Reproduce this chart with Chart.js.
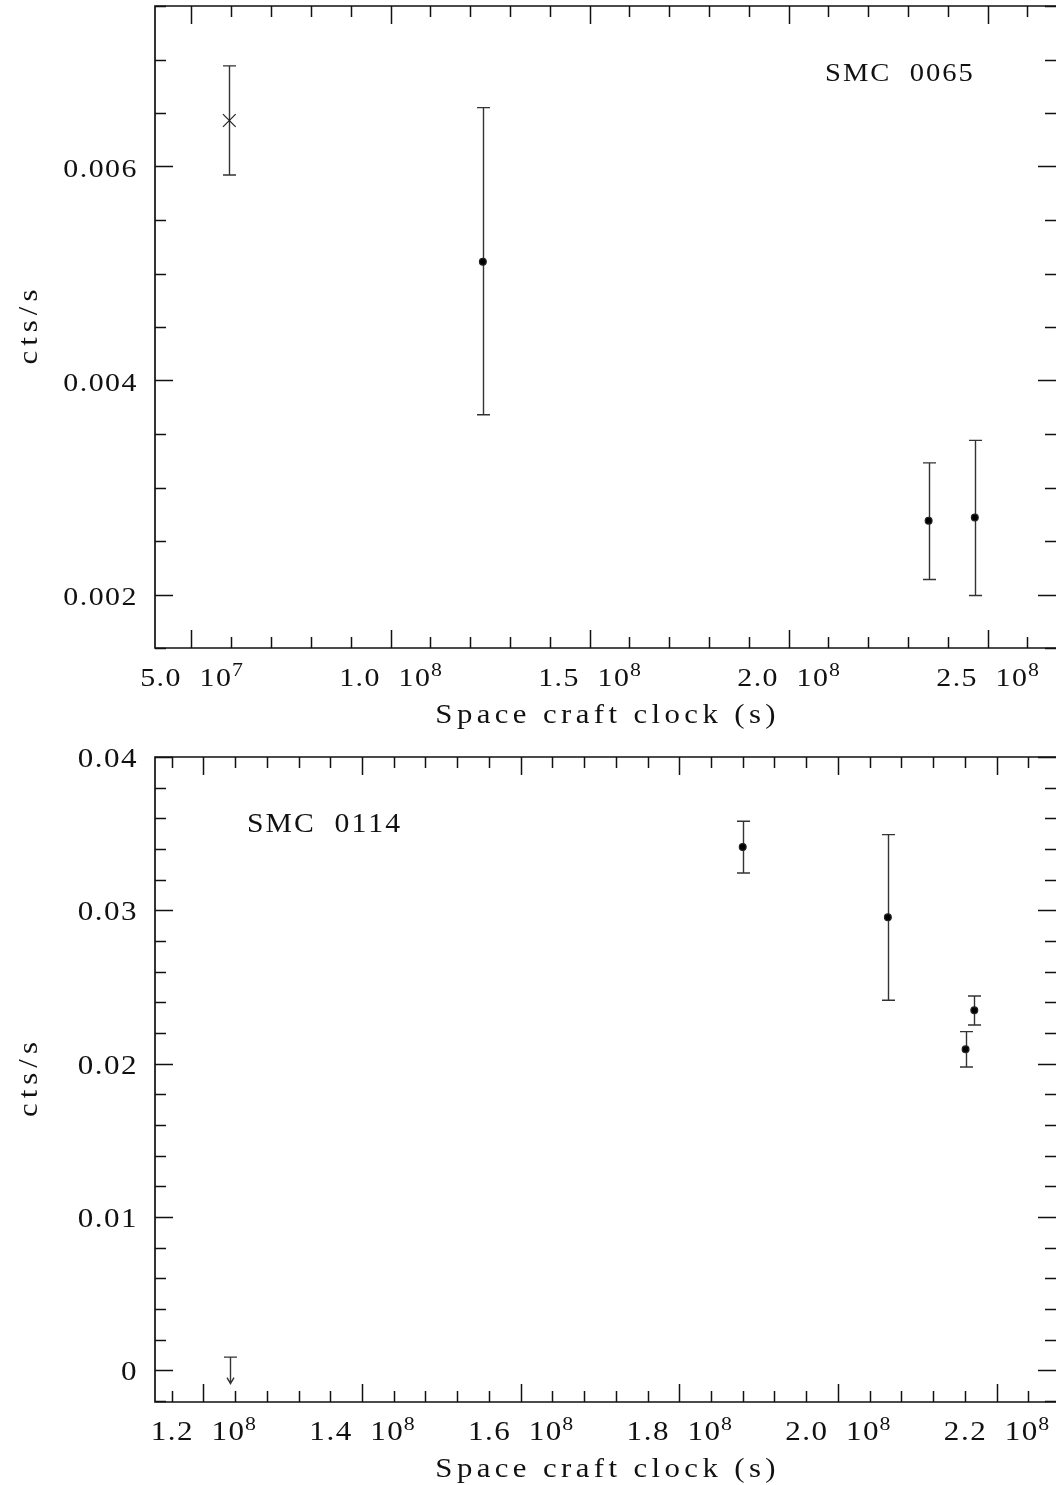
<!DOCTYPE html>
<html>
<head>
<meta charset="utf-8">
<script src="https://cdn.jsdelivr.net/npm/chart.js@4/dist/chart.umd.min.js"></script>
<style>
  body { margin: 0; background: #fff; width: 1056px; height: 1485px; position: relative; overflow: hidden; }
  canvas { position: absolute; left: 0; }
</style>
</head>
<body>
<canvas id="top" width="1056" height="742" style="top:0"></canvas>
<canvas id="bottom" width="1056" height="743" style="top:742px"></canvas>
<script>
// ---- SMC 0065 (upper panel)
var topX  = [5.95e7, 1.232e8, 2.352e8, 2.468e8];
var topY  = [0.00643, 0.00511, 0.00269, 0.00272];
var topLo = [0.00592, 0.00368, 0.00214, 0.00199];
var topHi = [0.00694, 0.00655, 0.00323, 0.00344];
var topStyle = ['crossRot', 'circle', 'circle', 'circle'];
var topXTicks  = [5e7, 1e8, 1.5e8, 2e8, 2.5e8];
var topXLabels = ['5.0', '1.0', '1.5', '2.0', '2.5'];
var topXExp    = ['7', '8', '8', '8', '8'];
var topYTicks  = [0.002, 0.004, 0.006];
var topYLabels = ['0.002', '0.004', '0.006'];

// ---- SMC 0114 (lower panel)
var botX  = [1.880e8, 2.063e8, 2.172e8, 2.161e8];
var botY  = [0.03413, 0.02954, 0.02348, 0.02093];
var botLo = [0.03243, 0.02413, 0.02252, 0.01978];
var botHi = [0.03581, 0.03494, 0.02441, 0.02209];
var botLimX   = [1.233e8];
var botLimY   = [0.00086];
var botLimTip = [-0.00087];
var botXTicks  = [1.2e8, 1.4e8, 1.6e8, 1.8e8, 2.0e8, 2.2e8];
var botXLabels = ['1.2', '1.4', '1.6', '1.8', '2.0', '2.2'];
var botXExp    = ['8', '8', '8', '8', '8', '8'];
var botYTicks  = [0, 0.01, 0.02, 0.03, 0.04];
var botYLabels = ['0', '0.01', '0.02', '0.03', '0.04'];

var FONT = '"Liberation Serif", "DejaVu Serif", serif';
var INK = '#111';

// text helpers: glyphs stretched by sx, extra gap sp between characters
function spacedWidth(ctx, s, sp, sx) {
  var w = 0;
  for (var i = 0; i < s.length; i++) w += ctx.measureText(s[i]).width * sx;
  return w + sp * (s.length - 1);
}
function drawSpaced(ctx, s, x, y, sp, sx) {
  for (var i = 0; i < s.length; i++) {
    ctx.save();
    ctx.translate(x, y);
    ctx.scale(sx, 1);
    ctx.fillText(s[i], 0, 0);
    ctx.restore();
    x += ctx.measureText(s[i]).width * sx + sp;
  }
}

// pgplot-ish frame: inward ticks on all four sides, labels, error bars
function framePlugin(cfg) {
  return {
    id: 'frame',
    beforeDatasetsDraw: function(chart) {
      var ctx = chart.ctx, xs = chart.scales.x, ys = chart.scales.y;
      ctx.save();
      ctx.strokeStyle = '#333';
      ctx.lineWidth = 1.4;
      var cap = 6.5;
      for (var i = 0; i < cfg.ex.length; i++) {
        var px = Math.round(xs.getPixelForValue(cfg.ex[i])) + 0.5;
        var lo = ys.getPixelForValue(cfg.lo[i]);
        var hi = ys.getPixelForValue(cfg.hi[i]);
        ctx.beginPath();
        ctx.moveTo(px, lo); ctx.lineTo(px, hi);
        ctx.moveTo(px - cap, lo); ctx.lineTo(px + cap, lo);
        ctx.moveTo(px - cap, hi); ctx.lineTo(px + cap, hi);
        ctx.stroke();
      }
      if (cfg.limX) {
        for (var j = 0; j < cfg.limX.length; j++) {
          var lx = Math.round(xs.getPixelForValue(cfg.limX[j])) + 0.5;
          var ly = ys.getPixelForValue(cfg.limY[j]);
          var lt = ys.getPixelForValue(cfg.limTip[j]);
          ctx.beginPath();
          ctx.moveTo(lx - cap, ly); ctx.lineTo(lx + cap, ly);
          ctx.moveTo(lx, ly); ctx.lineTo(lx, lt);
          ctx.moveTo(lx - 3.5, lt - 6); ctx.lineTo(lx, lt); ctx.lineTo(lx + 3.5, lt - 6);
          ctx.stroke();
        }
      }
      ctx.restore();
    },
    afterDraw: function(chart) {
      var ctx = chart.ctx, a = chart.chartArea;
      var xs = chart.scales.x, ys = chart.scales.y;
      ctx.save();
      ctx.strokeStyle = INK;
      ctx.lineWidth = 1.7;
      // left, top, bottom (right edge falls off the page)
      ctx.beginPath();
      ctx.moveTo(a.right + 2, a.top); ctx.lineTo(a.left, a.top);
      ctx.lineTo(a.left, a.bottom); ctx.lineTo(a.right + 2, a.bottom);
      ctx.stroke();
      ctx.lineWidth = 1.5;
      ctx.beginPath();
      var k, v, p, len;
      for (k = Math.ceil(xs.min / cfg.xMinor - 1e-9); k * cfg.xMinor <= xs.max; k++) {
        v = k * cfg.xMinor;
        p = Math.round(xs.getPixelForValue(v)) + 0.5;
        len = (k % cfg.xRatio === 0) ? 18 : 11;
        ctx.moveTo(p, a.bottom); ctx.lineTo(p, a.bottom - len);
        ctx.moveTo(p, a.top); ctx.lineTo(p, a.top + len);
      }
      for (k = Math.ceil(ys.min / cfg.yMinor - 1e-9); k * cfg.yMinor <= ys.max + 1e-12; k++) {
        v = k * cfg.yMinor;
        p = Math.round(ys.getPixelForValue(v)) + 0.5;
        len = (k % cfg.yRatio === 0) ? 18 : 11;
        ctx.moveTo(a.left, p); ctx.lineTo(a.left + len, p);
        ctx.moveTo(a.right, p); ctx.lineTo(a.right - len, p);
      }
      ctx.stroke();

      ctx.fillStyle = INK;
      ctx.textBaseline = 'alphabetic';
      var fs = cfg.fs, sx = 1.15, sp = 1.5;
      var big = fs + 'px ' + FONT, small = Math.round(fs * 0.72) + 'px ' + FONT;
      // y tick labels
      ctx.font = big;
      for (var i = 0; i < cfg.yTicks.length; i++) {
        var s = cfg.yLabels[i];
        var w = spacedWidth(ctx, s, sp, sx);
        drawSpaced(ctx, s, 136.5 - w, ys.getPixelForValue(cfg.yTicks[i]) + 10, sp, sx);
      }
      // x tick labels:  n.n  10^e
      for (i = 0; i < cfg.xTicks.length; i++) {
        ctx.font = big;
        var n = cfg.xLabels[i];
        var wn = spacedWidth(ctx, n, sp, sx);
        var wt = spacedWidth(ctx, '10', sp, sx);
        ctx.font = small;
        var we = ctx.measureText(cfg.xExp[i]).width * sx;
        var gap = 19;
        var tot = wn + gap + wt + 1 + we;
        var x0 = xs.getPixelForValue(cfg.xTicks[i]) - tot / 2;
        var by = a.bottom + cfg.xLabBase;
        ctx.font = big;
        drawSpaced(ctx, n, x0, by, sp, sx);
        drawSpaced(ctx, '10', x0 + wn + gap, by, sp, sx);
        ctx.font = small;
        drawSpaced(ctx, cfg.xExp[i], x0 + wn + gap + wt + 1, by - 10, 0, sx);
      }
      // axis titles
      ctx.font = '28px ' + FONT;
      var title = 'Space craft clock (s)';
      var tw = spacedWidth(ctx, title, 4.4, 1.1);
      drawSpaced(ctx, title, (a.left + a.right) / 2 - tw / 2, a.bottom + cfg.titleBase, 4.4, 1.1);
      var yt = 'cts/s';
      var yw = spacedWidth(ctx, yt, 5, 1.1);
      ctx.save();
      ctx.translate(37, (a.top + a.bottom) / 2);
      ctx.rotate(-Math.PI / 2);
      drawSpaced(ctx, yt, -yw / 2, 0, 5, 1.1);
      ctx.restore();
      // panel name
      ctx.font = big;
      drawSpaced(ctx, cfg.name, cfg.nameX, cfg.nameY, 2, 1.1);
      ctx.restore();
    }
  };
}

function makePanel(id, xs, ys, styles, radii, pad, xr, yr, cfg) {
  var pts = xs.map(function(x, i) { return { x: x, y: ys[i] }; });
  return new Chart(document.getElementById(id), {
    type: 'scatter',
    data: {
      datasets: [{
        data: pts,
        pointStyle: styles,
        pointRadius: radii,
        pointBorderWidth: 1.2,
        pointBackgroundColor: '#000',
        pointBorderColor: '#222'
      }]
    },
    options: {
      responsive: false,
      animation: false,
      devicePixelRatio: 1,
      layout: { padding: pad, autoPadding: false },
      plugins: { legend: { display: false }, tooltip: { enabled: false } },
      scales: {
        x: { type: 'linear', min: xr[0], max: xr[1], display: false },
        y: { type: 'linear', min: yr[0], max: yr[1], display: false }
      }
    },
    plugins: [framePlugin(cfg)]
  });
}

makePanel('top', topX, topY, topStyle, [9, 3.4, 3.4, 3.4],
  { left: 155, top: 6, right: 0, bottom: 94 },
  [4.083e7, 2.672e8], [0.0015, 0.0075],
  { ex: topX, lo: topLo, hi: topHi,
    xMinor: 1e7, xRatio: 5, yMinor: 0.0005, yRatio: 4,
    xTicks: topXTicks, xLabels: topXLabels, xExp: topXExp,
    yTicks: topYTicks, yLabels: topYLabels,
    fs: 26, xLabBase: 38, titleBase: 75,
    name: 'SMC  0065', nameX: 825, nameY: 80.7 });

makePanel('bottom', botX, botY, ['circle', 'circle', 'circle', 'circle'], [3.4, 3.4, 3.4, 3.4],
  { left: 155, top: 15, right: 0, bottom: 83 },
  [1.139e8, 2.275e8], [-0.00207, 0.04],
  { ex: botX, lo: botLo, hi: botHi,
    limX: botLimX, limY: botLimY, limTip: botLimTip,
    xMinor: 4e6, xRatio: 5, yMinor: 0.002, yRatio: 5,
    xTicks: botXTicks, xLabels: botXLabels, xExp: botXExp,
    yTicks: botYTicks, yLabels: botYLabels,
    fs: 27, xLabBase: 38, titleBase: 75,
    name: 'SMC  0114', nameX: 247, nameY: 89.7 });
</script>
</body>
</html>
